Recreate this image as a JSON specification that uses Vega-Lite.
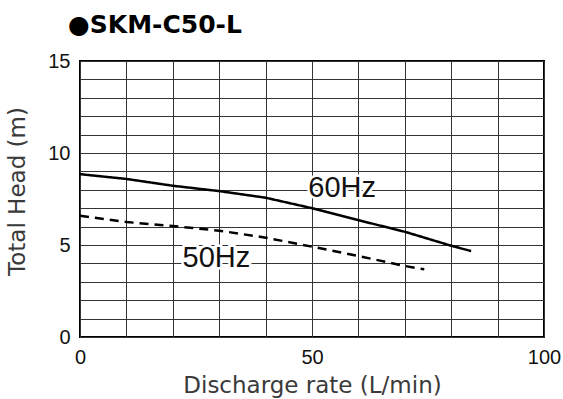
{
  "$schema": "https://vega.github.io/schema/vega-lite/v6.json",
  "width": 464,
  "height": 276,
  "autosize": {"type": "none"},
  "padding": {"left": 80, "top": 61, "right": 19, "bottom": 62},
  "background": "white",
  "title": {
    "text": "●SKM-C50-L",
    "anchor": "start",
    "frame": "group",
    "dx": -12,
    "offset": 13,
    "font": "DejaVu Sans",
    "fontSize": 25,
    "fontWeight": "bold",
    "color": "#000"
  },
  "config": {
    "view": {"stroke": "#000", "strokeWidth": 2},
    "axis": {
      "domain": false,
      "ticks": false,
      "gridColor": "#333",
      "gridWidth": 1,
      "gridOpacity": 1,
      "labelFont": "Liberation Sans",
      "labelFontSize": 20,
      "labelColor": "#111",
      "titleFont": "DejaVu Sans",
      "titleFontSize": 23,
      "titleFontWeight": "normal",
      "titleColor": "#3a3a3a"
    }
  },
  "datasets": {
    "curves": [
      {"flow": 0, "head": 8.85, "series": "60Hz"},
      {"flow": 10, "head": 8.59, "series": "60Hz"},
      {"flow": 20, "head": 8.22, "series": "60Hz"},
      {"flow": 30, "head": 7.93, "series": "60Hz"},
      {"flow": 40, "head": 7.57, "series": "60Hz"},
      {"flow": 50, "head": 7.0, "series": "60Hz"},
      {"flow": 60, "head": 6.35, "series": "60Hz"},
      {"flow": 70, "head": 5.72, "series": "60Hz"},
      {"flow": 80, "head": 4.96, "series": "60Hz"},
      {"flow": 84.3, "head": 4.67, "series": "60Hz"},
      {"flow": 0, "head": 6.59, "series": "50Hz"},
      {"flow": 10, "head": 6.25, "series": "50Hz"},
      {"flow": 20, "head": 6.03, "series": "50Hz"},
      {"flow": 30, "head": 5.78, "series": "50Hz"},
      {"flow": 40, "head": 5.4, "series": "50Hz"},
      {"flow": 50, "head": 4.91, "series": "50Hz"},
      {"flow": 60, "head": 4.4, "series": "50Hz"},
      {"flow": 70, "head": 3.86, "series": "50Hz"},
      {"flow": 74.2, "head": 3.68, "series": "50Hz"}
    ],
    "labels": [
      {"flow": 49.2, "head": 7.62, "text": "60Hz"},
      {"flow": 22.1, "head": 3.82, "text": "50Hz"}
    ]
  },
  "encoding": {
    "x": {
      "field": "flow",
      "type": "quantitative",
      "scale": {"domain": [0, 100], "nice": false, "zero": false},
      "axis": {
        "title": "Discharge rate (L/min)",
        "values": [0, 10, 20, 30, 40, 50, 60, 70, 80, 90, 100],
        "labelExpr": "datum.value % 50 === 0 ? datum.label : ''",
        "labelPadding": 10,
        "titlePadding": 7,
        "labelFlush": false
      }
    },
    "y": {
      "field": "head",
      "type": "quantitative",
      "scale": {"domain": [0, 15], "nice": false, "zero": false},
      "axis": {
        "title": "Total Head (m)",
        "values": [0, 1, 2, 3, 4, 5, 6, 7, 8, 9, 10, 11, 12, 13, 14, 15],
        "labelExpr": "datum.value % 5 === 0 ? datum.label : ''",
        "labelPadding": 10,
        "titlePadding": 18,
        "titleY": 130,
        "labelFlush": false
      }
    }
  },
  "layer": [
    {
      "data": {"name": "curves"},
      "mark": {"type": "line", "color": "#000", "strokeWidth": 2.5},
      "encoding": {
        "detail": {"field": "series"},
        "strokeDash": {
          "field": "series",
          "type": "nominal",
          "scale": {"domain": ["60Hz", "50Hz"], "range": [[1, 0], [9, 6]]},
          "legend": null
        }
      }
    },
    {
      "data": {"name": "labels"},
      "mark": {"type": "text", "align": "left", "baseline": "alphabetic", "font": "Liberation Sans", "fontSize": 29, "stroke": "white", "strokeWidth": 5, "fill": "white"},
      "encoding": {"text": {"field": "text"}}
    },
    {
      "data": {"name": "labels"},
      "mark": {"type": "text", "align": "left", "baseline": "alphabetic", "font": "Liberation Sans", "fontSize": 29, "color": "#111"},
      "encoding": {"text": {"field": "text"}}
    }
  ]
}
